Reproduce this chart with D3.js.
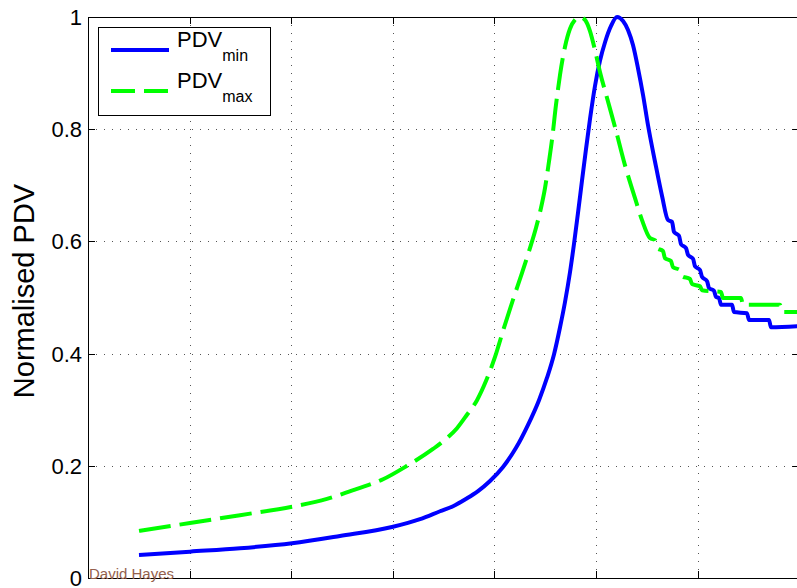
<!DOCTYPE html>
<html>
<head>
<meta charset="utf-8">
<script src="https://cdn.jsdelivr.net/npm/d3@7"></script>
<style>
	body { margin: 0; background: #fff; }
	svg { display: block; }
	text { font-family: "Liberation Sans", Arial, sans-serif; }
</style>
</head>
<body>
<div id="chart"></div>
<script>
// PDV_min curve (x in grid units, y normalised)
var minX = [0.502, 1.004, 1.496, 2.008, 2.480, 2.992, 3.268, 3.465, 3.593, 3.720, 3.839, 3.957, 4.085, 4.213, 4.331,
	4.439, 4.518, 4.587, 4.646, 4.695, 4.744, 4.783, 4.823, 4.862, 4.902, 4.941, 4.990, 5.039, 5.089, 5.148,
	5.207, 5.266, 5.315, 5.364, 5.413, 5.463, 5.512, 5.581, 5.650, 5.709, 5.748, 5.768, 5.817, 5.837, 5.886,
	5.906, 5.955, 5.974, 6.024, 6.043, 6.093, 6.112, 6.161, 6.181, 6.211, 6.230, 6.339, 6.358, 6.486, 6.506,
	6.703, 6.722, 7.008];
var minY = [0.041, 0.047, 0.053, 0.062, 0.075, 0.091, 0.105, 0.119, 0.128, 0.141, 0.155, 0.173, 0.198, 0.232, 0.273,
	0.317, 0.357, 0.399, 0.447, 0.492, 0.545, 0.595, 0.651, 0.708, 0.765, 0.818, 0.877, 0.922, 0.955, 0.984,
	1.000, 0.993, 0.977, 0.950, 0.909, 0.861, 0.807, 0.742, 0.681, 0.638, 0.635, 0.617, 0.610, 0.595, 0.588,
	0.576, 0.569, 0.556, 0.549, 0.537, 0.529, 0.517, 0.512, 0.501, 0.499, 0.487, 0.487, 0.474, 0.472, 0.460,
	0.460, 0.447, 0.449];

// PDV_max curve
var maxX = [0.502, 1.004, 1.496, 2.008, 2.352, 2.648, 2.904, 3.140, 3.396, 3.524, 3.632, 3.730, 3.829, 3.917, 4.006,
	4.094, 4.183, 4.272, 4.350, 4.409, 4.459, 4.498, 4.537, 4.567, 4.606, 4.646, 4.695, 4.744, 4.793, 4.843,
	4.892, 4.941, 4.990, 5.039, 5.108, 5.187, 5.285, 5.384, 5.453, 5.531, 5.581, 5.600, 5.659, 5.679, 5.738,
	5.758, 5.827, 5.846, 5.925, 5.945, 6.024, 6.043, 6.230, 6.250, 6.427, 6.447, 6.811, 6.831, 7.008];
var maxY = [0.084, 0.098, 0.112, 0.127, 0.141, 0.159, 0.176, 0.200, 0.230, 0.248, 0.267, 0.291, 0.317, 0.351, 0.394,
	0.446, 0.496, 0.544, 0.588, 0.624, 0.660, 0.695, 0.742, 0.781, 0.843, 0.897, 0.947, 0.979, 0.995, 1.000,
	0.995, 0.975, 0.941, 0.902, 0.856, 0.804, 0.736, 0.677, 0.638, 0.606, 0.602, 0.588, 0.583, 0.570, 0.565,
	0.554, 0.549, 0.538, 0.533, 0.524, 0.520, 0.513, 0.510, 0.499, 0.499, 0.487, 0.487, 0.474, 0.474];

var yTicks = [0, 0.2, 0.4, 0.6, 0.8, 1];
var yTickLabels = ["0", "0.2", "0.4", "0.6", "0.8", "1"];
var xTicks = [0, 1, 2, 3, 4, 5, 6, 7];

var width = 797, height = 588;
var axLeft = 88, axTop = 17, axBottom = 578, axRight = 799.2;

var svg = d3.select("#chart").append("svg")
	.attr("width", width)
	.attr("height", height);

var x = d3.scaleLinear().domain([0, 7]).range([axLeft, axRight]);
var y = d3.scaleLinear().domain([0, 1]).range([axBottom, axTop]);

function crisp(v) { return Math.round(v) + 0.5; }

//dotted grid
var grid = svg.append("g")
	.attr("stroke", "#555")
	.attr("stroke-width", 1)
	.attr("stroke-dasharray", "1,7");

grid.selectAll("line.vx")
	.data(xTicks.filter(function (d) { return d > 0 && d < 7; }))
	.enter().append("line")
	.attr("x1", function (d) { return crisp(x(d)); })
	.attr("x2", function (d) { return crisp(x(d)); })
	.attr("y1", axTop)
	.attr("y2", axBottom);

grid.selectAll("line.hy")
	.data(yTicks.filter(function (d) { return d > 0 && d < 1; }))
	.enter().append("line")
	.attr("x1", axLeft)
	.attr("x2", axRight)
	.attr("y1", function (d) { return crisp(y(d)); })
	.attr("y2", function (d) { return crisp(y(d)); });

//axes box and inward ticks
var axes = svg.append("g").attr("stroke", "#000").attr("stroke-width", 1).attr("fill", "none");
axes.append("rect")
	.attr("x", crisp(axLeft))
	.attr("y", crisp(axTop))
	.attr("width", axRight - axLeft)
	.attr("height", axBottom - axTop);

var tickLen = 7;
xTicks.forEach(function (d) {
	var px = crisp(x(d));
	axes.append("line").attr("x1", px).attr("x2", px).attr("y1", axBottom).attr("y2", axBottom - tickLen);
	axes.append("line").attr("x1", px).attr("x2", px).attr("y1", axTop).attr("y2", axTop + tickLen);
});
yTicks.forEach(function (d) {
	var py = crisp(y(d));
	axes.append("line").attr("x1", axLeft).attr("x2", axLeft + tickLen).attr("y1", py).attr("y2", py);
	axes.append("line").attr("x1", axRight).attr("x2", axRight - tickLen).attr("y1", py).attr("y2", py);
});

//tick labels
svg.selectAll("text.ytick")
	.data(yTicks)
	.enter().append("text")
	.attr("class", "ytick")
	.attr("x", 82)
	.attr("y", function (d) { return y(d); })
	.attr("dy", "0.36em")
	.attr("text-anchor", "end")
	.attr("font-size", "22px")
	.attr("fill", "#000")
	.text(function (d, i) { return yTickLabels[i]; });

svg.append("text")
	.attr("transform", "translate(34," + 291 + ") rotate(-90)")
	.attr("text-anchor", "middle")
	.attr("font-size", "29px")
	.attr("fill", "#000")
	.text("Normalised PDV");

//curves
var line = d3.line()
	.x(function (d) { return x(d[0]); })
	.y(function (d) { return y(d[1]); })
	.curve(d3.curveMonotoneX);

var minData = d3.zip(minX, minY);
var maxData = d3.zip(maxX, maxY);

var plot = svg.append("g");
plot.append("path")
	.attr("d", line(minData))
	.attr("fill", "none")
	.attr("stroke", "#0000ff")
	.attr("stroke-width", 4);

plot.append("path")
	.attr("d", line(maxData))
	.attr("fill", "none")
	.attr("stroke", "#00ff00")
	.attr("stroke-width", 4)
	.attr("stroke-dasharray", "32,9");

//watermark
svg.append("text")
	.attr("x", 89)
	.attr("y", 579)
	.attr("font-size", "15px")
	.attr("fill", "#94604c")
	.text("David Hayes");

//legend
var legend = svg.append("g");
legend.append("rect")
	.attr("x", 98.5).attr("y", 27.5)
	.attr("width", 172).attr("height", 88)
	.attr("fill", "#fff").attr("stroke", "#000").attr("stroke-width", 1);

var legendItems = [
	{ main: "PDV", sub: "min", color: "#0000ff", dash: null, y: 50 },
	{ main: "PDV", sub: "max", color: "#00ff00", dash: "24,9", y: 91 }
];

legendItems.forEach(function (item) {
	legend.append("line")
		.attr("x1", 111).attr("x2", 169)
		.attr("y1", item.y).attr("y2", item.y)
		.attr("stroke", item.color)
		.attr("stroke-width", 4)
		.attr("stroke-dasharray", item.dash);
	var t = legend.append("text")
		.attr("x", 177)
		.attr("y", item.y - 3)
		.attr("font-size", "22px")
		.attr("fill", "#000");
	t.append("tspan").text(item.main);
	t.append("tspan").attr("font-size", "16px").attr("dy", 14).text(item.sub);
});
</script>
</body>
</html>
